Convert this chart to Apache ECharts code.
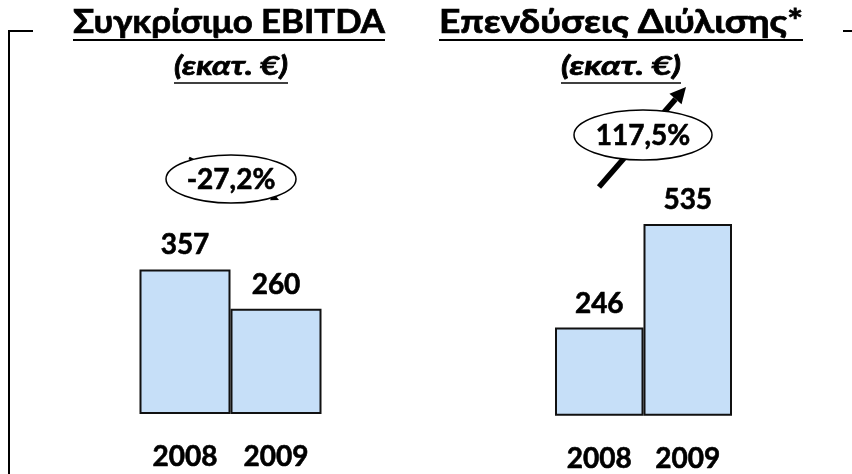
<!DOCTYPE html>
<html>
<head>
<meta charset="utf-8">
<script src="https://cdn.jsdelivr.net/npm/echarts@6/dist/echarts.min.js"></script>
<style>
  html, body { margin: 0; padding: 0; background: #fff; }
  #chart { width: 852px; height: 474px; }
</style>
</head>
<body>
<div id="chart"></div>
<script>
// data
const years = ['2008', '2009']
const ebitda = [357, 260]
const refining = [246, 535]
const titles = ['Συγκρίσιμο EBITDA', 'Επενδύσεις Διύλισης*']
const unitLabel = '(εκατ. €)'
const changes = ['-27,2%', '117,5%']

const FONT = 'Lato, "Noto Sans", sans-serif'
const BAR_FILL = '#c6dff8'

const chart = echarts.init(document.getElementById('chart'))

// width of a text, used for the underlines
const ctx = document.createElement('canvas').getContext('2d')
function textWidth (txt, font) {
  ctx.font = font
  return ctx.measureText(txt).width
}

// text squeezed to a given width, with an underline below it
function underlined (txt, cx, y, font, fitW, lineY, lineW) {
  const w = textWidth(txt, font)
  const sx = fitW / w
  return [
    {
      type: 'text',
      x: cx,
      y: y,
      scaleX: sx,
      style: { text: txt, x: 0, y: 0, font: font, fill: '#000', stroke: '#000', lineWidth: 0.7, align: 'center', verticalAlign: 'middle', textAlign: 'center', textVerticalAlign: 'middle' }
    },
    {
      type: 'line',
      shape: { x1: cx - fitW / 2, y1: lineY, x2: cx + fitW / 2, y2: lineY },
      style: { stroke: '#000', lineWidth: lineW }
    }
  ]
}

// oval with the % change
function badge (txt, cx, cy, rx, ry) {
  return [
    {
      type: 'ellipse',
      z: 10,
      shape: { cx: cx, cy: cy, rx: rx, ry: ry },
      style: { fill: '#fff', stroke: '#000', lineWidth: 1.5 }
    },
    {
      type: 'text',
      z: 11,
      style: { text: txt, x: cx, y: cy + 1, font: 'bold 28px ' + FONT, fill: '#000', stroke: '#000', lineWidth: 0.6, align: 'center', verticalAlign: 'middle', textAlign: 'center', textVerticalAlign: 'middle' }
    }
  ]
}

// arrow from (x1,y1) to (x2,y2)
function arrow (x1, y1, x2, y2, w, hl, hw) {
  const dx = x2 - x1, dy = y2 - y1
  const len = Math.sqrt(dx * dx + dy * dy)
  const ux = dx / len, uy = dy / len
  const bx = x2 - ux * hl, by = y2 - uy * hl
  return [
    {
      type: 'line',
      z: 5,
      shape: { x1: x1, y1: y1, x2: bx, y2: by },
      style: { stroke: '#000', lineWidth: w }
    },
    {
      type: 'polygon',
      z: 5,
      shape: { points: [[x2, y2], [bx - uy * hw, by + ux * hw], [bx + uy * hw, by - ux * hw]] },
      style: { fill: '#000' }
    }
  ]
}

const graphics = [].concat(
  // frame corner
  [
    { type: 'polyline', shape: { points: [[9, 474], [9, 31], [33, 31]] }, style: { stroke: '#000', lineWidth: 2, fill: null } },
    { type: 'line', shape: { x1: 843, y1: 31, x2: 852, y2: 31 }, style: { stroke: '#000', lineWidth: 2 } }
  ],
  underlined(titles[0], 229, 23, 'bold 32px ' + FONT, 312, 40, 2),
  underlined(titles[1], 621, 23, 'bold 32px ' + FONT, 364, 40, 2),
  underlined(unitLabel, 231, 67, 'italic bold 26px ' + FONT, 114, 83, 1.5),
  underlined(unitLabel, 621, 67, 'italic bold 26px ' + FONT, 120, 83, 1.5),
  arrow(189, 158, 279, 200, 2.5, 8, 4),
  badge(changes[0], 231, 179, 65, 24),
  arrow(599, 187, 686, 87, 5.5, 16, 8),
  badge(changes[1], 643, 135, 69, 25)
)

function barSeries (data, idx) {
  return {
    type: 'bar',
    xAxisIndex: idx,
    yAxisIndex: idx,
    data: data,
    barCategoryGap: '0%',
    itemStyle: { color: BAR_FILL, borderColor: '#111', borderWidth: 2 },
    label: {
      show: true,
      position: 'top',
      distance: 10,
      color: '#000',
      fontFamily: FONT,
      fontWeight: 'bold',
      fontSize: 28,
      textBorderColor: '#000',
      textBorderWidth: 0.6
    }
  }
}

function catAxis (idx) {
  return {
    type: 'category',
    gridIndex: idx,
    data: years,
    axisLine: { show: false },
    axisTick: { show: false },
    axisLabel: {
      margin: 29,
      color: '#000',
      fontFamily: FONT,
      fontWeight: 'bold',
      fontSize: 28,
      textBorderColor: '#000',
      textBorderWidth: 0.6
    }
  }
}

function valAxis (idx) {
  return {
    type: 'value',
    gridIndex: idx,
    min: 0,
    max: 600,
    show: false,
    splitLine: { show: false }
  }
}

const option = {
  backgroundColor: '#fff',
  animation: false,
  grid: [
    { left: 139.5, width: 182, top: 171, bottom: 60 },
    { left: 555, width: 177, top: 200.7, bottom: 58.3 }
  ],
  xAxis: [catAxis(0), catAxis(1)],
  yAxis: [valAxis(0), valAxis(1)],
  series: [barSeries(ebitda, 0), barSeries(refining, 1)],
  graphic: graphics
}

option && chart.setOption(option)
</script>
</body>
</html>
